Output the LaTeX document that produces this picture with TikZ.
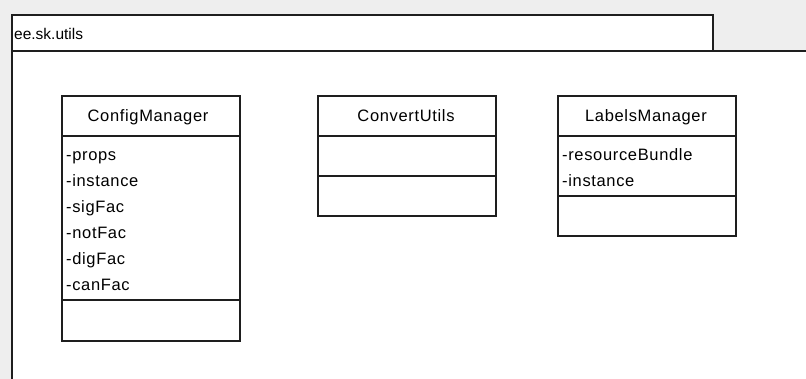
\documentclass[tikz,border=0pt]{standalone}
\usepackage{fontspec}
\setmainfont{Liberation Sans}[LetterSpace=4]
\newfontfamily\tightsans{Liberation Sans}
\definecolor{canvas}{HTML}{EEEEEE}
\definecolor{edge}{HTML}{1E1E1E}
\tikzset{
  umlfont/.style={font=\fontsize{16.5}{18}\selectfont},
  outline/.style={draw=edge, line width=1.6pt, fill=white, inner sep=0pt, anchor=north west},
  classpart/.style={outline, minimum width=178pt},
  classname/.style={umlfont, anchor=base, inner sep=0pt},
  member/.style={umlfont, anchor=base west, inner sep=0pt},
  pkglabel/.style={font=\tightsans\fontsize{15.5}{18}\selectfont, anchor=base west, inner sep=0pt},
}
\begin{document}
\begin{tikzpicture}[x=1pt,y=-1pt]
  \useasboundingbox (0,0) rectangle (806,379);
  \begin{scope}
    \clip (0,0) rectangle (806,379);
    \fill[canvas] (0,0) rectangle (806,379);
    % package frame and its name tab
    \node[outline, minimum width=900pt, minimum height=400pt] (pkgbody) at (11,50) {};
    \node[outline, minimum width=701pt, minimum height=36pt] (pkgtab) at (11,14) {};
    \node[pkglabel] (pkgname) at (14,40) {ee.sk.utils};

    % ConfigManager
    \node[classpart, minimum height=40pt]  (cmTitle) at (61,95)  {};
    \node[classpart, minimum height=164pt] (cmAttrs) at (61,135) {};
    \node[classpart, minimum height=41pt]  (cmOps)   at (61,299) {};
    \node[classname] (cmName) at (148,122) {ConfigManager};
    \node[member] (cmA1) at (66,161) {-props};
    \node[member] (cmA2) at (66,187) {-instance};
    \node[member] (cmA3) at (66,213) {-sigFac};
    \node[member] (cmA4) at (66,239) {-notFac};
    \node[member] (cmA5) at (66,265) {-digFac};
    \node[member] (cmA6) at (66,291) {-canFac};

    % ConvertUtils
    \node[classpart, minimum height=40pt] (cuTitle) at (317,95)  {};
    \node[classpart, minimum height=40pt] (cuAttrs) at (317,135) {};
    \node[classpart, minimum height=40pt] (cuOps)   at (317,175) {};
    \node[classname] (cuName) at (406,122) {ConvertUtils};

    % LabelsManager
    \node[classpart, minimum height=40pt] (lmTitle) at (557,95)  {};
    \node[classpart, minimum height=60pt] (lmAttrs) at (557,135) {};
    \node[classpart, minimum height=40pt] (lmOps)   at (557,195) {};
    \node[classname] (lmName) at (646,122) {LabelsManager};
    \node[member] (lmA1) at (562,161) {-resourceBundle};
    \node[member] (lmA2) at (562,187) {-instance};
  \end{scope}
\end{tikzpicture}
\end{document}
